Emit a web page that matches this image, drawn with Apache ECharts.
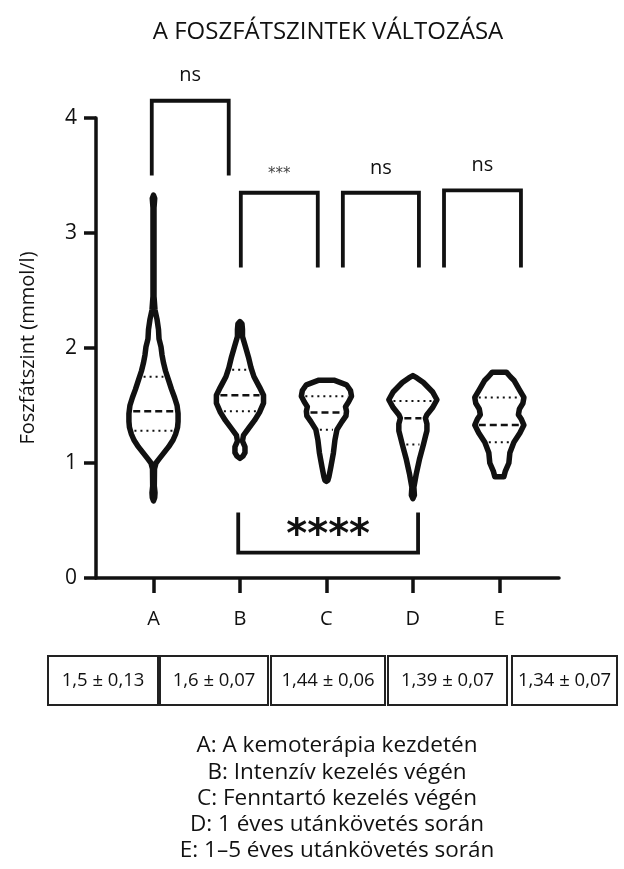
<!DOCTYPE html>
<html>
<head>
<meta charset="utf-8">
<title>A foszfátszintek változása</title>
<script src="https://cdn.jsdelivr.net/npm/echarts@6/dist/echarts.min.js"></script>
<style>
  html, body { margin: 0; padding: 0; background: #fff; }
  #chart { width: 624px; height: 869px; }
</style>
</head>
<body>
<div id="chart"></div>
<script>
// Groups along the x axis
const categories = ['A', 'B', 'C', 'D', 'E'];

// Violin outlines: [phosphate level (mmol/l), relative density]
const densityA = [
  [3.33, 0], [3.30, 1.2], [3.22, 0.5], [2.45, 0.5], [2.33, 1.5], [2.25, 3.5],
  [2.16, 5], [2.08, 5.5], [2.01, 7.5], [1.94, 8.5], [1.87, 10], [1.80, 12],
  [1.72, 15], [1.64, 18], [1.57, 21], [1.50, 23.5], [1.43, 24.5], [1.36, 24.5],
  [1.31, 24], [1.25, 22], [1.20, 19.5], [1.14, 15], [1.09, 10.5], [1.04, 6],
  [1.00, 2.5], [0.95, 1], [0.80, 0.8], [0.74, 1.5], [0.70, 1.2], [0.67, 0]
];
const densityB = [
  [2.23, 0], [2.21, 2], [2.16, 2.5], [2.10, 2.5], [2.01, 5.5], [1.92, 8.5],
  [1.83, 11], [1.75, 14], [1.66, 19.5], [1.59, 23.5], [1.52, 23.5], [1.44, 19.5],
  [1.37, 14.5], [1.30, 8.5], [1.24, 3.5], [1.19, 2.5], [1.14, 5], [1.09, 5],
  [1.06, 3], [1.04, 0]
];
const densityC = [
  [1.72, 7.5], [1.68, 20], [1.63, 24], [1.58, 25], [1.53, 22], [1.49, 19],
  [1.45, 20], [1.41, 19.5], [1.36, 15.5], [1.29, 10.5], [1.20, 8.5], [1.09, 7],
  [0.97, 4.5], [0.88, 2.5], [0.85, 1.5], [0.84, 0]
];
const densityD = [
  [1.76, 0], [1.74, 4], [1.70, 10.5], [1.62, 19.5], [1.55, 24], [1.48, 19.5],
  [1.42, 14], [1.39, 12.5], [1.34, 14], [1.28, 14], [1.23, 12.5], [1.16, 10.5],
  [1.03, 6.5], [0.91, 3.5], [0.79, 1], [0.72, 1.5], [0.69, 0]
];
const densityE = [
  [1.79, 7], [1.75, 11], [1.72, 14.5], [1.63, 20.5], [1.57, 24.5], [1.52, 23.5],
  [1.47, 20], [1.42, 19], [1.38, 22], [1.33, 24.5], [1.26, 20.5], [1.18, 14.5],
  [1.09, 10.5], [1.00, 9.5], [0.93, 6], [0.88, 4.5]
];
const violinDensities = [densityA, densityB, densityC, densityD, densityE];

// Quartiles per group
const q1Values     = [1.28, 1.45, 1.29, 1.16, 1.18];
const medianValues = [1.45, 1.59, 1.44, 1.39, 1.33];
const q3Values     = [1.75, 1.81, 1.58, 1.54, 1.57];

// Mean ± SE per group
const meanValues = [1.5, 1.6, 1.44, 1.39, 1.34];
const seValues   = [0.13, 0.07, 0.06, 0.07, 0.07];

// Significance of pairwise comparisons
const comparisonLabels = ['ns', '***', 'ns', 'ns', '****'];

// Y axis ticks
const yTicks = [0, 1, 2, 3, 4];

// Group descriptions
const legendLines = [
  'A: A kemoterápia kezdetén',
  'B: Intenzív kezelés végén',
  'C: Fenntartó kezelés végén',
  'D: 1 éves utánkövetés során',
  'E: 1–5 éves utánkövetés során'
];

// ---------------------------------------------------------------------------
// Bracket geometry in axis units (x: group index, y: mmol/l)
const bracketGeom = [
  { x0: -0.02, x1: 0.87, yBar: 4.15, yEnd: 3.50, yText: 4.37, font: '20px "Open Sans"', fill: '#111' },
  { x0: 1.01, x1: 1.90, yBar: 3.35, yEnd: 2.70, yText: 3.51, font: '15px "DejaVu Sans"', fill: '#444' },
  { x0: 2.19, x1: 3.07, yBar: 3.35, yEnd: 2.70, yText: 3.56, font: '20px "Open Sans"', fill: '#111' },
  { x0: 3.36, x1: 4.25, yBar: 3.37, yEnd: 2.70, yText: 3.59, font: '20px "Open Sans"', fill: '#111' },
  { x0: 0.98, x1: 3.06, yBar: 0.22, yEnd: 0.57, yText: 0.36, font: 'bold 40px "DejaVu Sans"', fill: '#111' }
];

const INK = '#111';
const DENSITY_TO_X = 0.29 / 25;   // density -> half width in group units

function densityAt(profile, y) {
  for (let k = 0; k < profile.length - 1; k++) {
    const [ya, da] = profile[k];
    const [yb, db] = profile[k + 1];
    if ((y <= ya && y >= yb)) {
      const t = (ya - y) / (ya - yb);
      return da + (db - da) * t;
    }
  }
  return 0;
}

function renderViolin(params, api) {
  const i = api.value(0);
  const prof = violinDensities[i];
  const right = prof.map(p => api.coord([i + p[1] * DENSITY_TO_X, p[0]]));
  const left = prof.slice().reverse().map(p => api.coord([i - p[1] * DENSITY_TO_X, p[0]]));
  const children = [{
    type: 'polygon',
    shape: { points: right.concat(left) },
    style: { fill: null, stroke: INK, lineWidth: 5.5, lineJoin: 'round', lineCap: 'round' }
  }];
  const lines = [
    { v: q1Values[i], dash: [2, 4], w: 2 },
    { v: medianValues[i], dash: [7, 4], w: 2.5 },
    { v: q3Values[i], dash: [2, 4], w: 2 }
  ];
  lines.forEach(l => {
    const d = densityAt(prof, l.v);
    const a = api.coord([i - d * DENSITY_TO_X, l.v]);
    const b = api.coord([i + d * DENSITY_TO_X, l.v]);
    const inset = 4;
    if (b[0] - a[0] > 2 * inset) {
      children.push({
        type: 'line',
        shape: { x1: a[0] + inset, y1: a[1], x2: b[0] - inset, y2: b[1] },
        style: { stroke: INK, lineWidth: l.w, lineDash: l.dash }
      });
    }
  });
  return { type: 'group', children };
}

function renderBracket(params, api) {
  const g = bracketGeom[api.value(0)];
  const p0 = api.coord([g.x0, g.yEnd]);
  const p1 = api.coord([g.x0, g.yBar]);
  const p2 = api.coord([g.x1, g.yBar]);
  const p3 = api.coord([g.x1, g.yEnd]);
  const t = api.coord([(g.x0 + g.x1) / 2, g.yText]);
  return {
    type: 'group',
    children: [
      {
        type: 'polyline',
        shape: { points: [p0, p1, p2, p3] },
        style: { fill: null, stroke: INK, lineWidth: 3.8, lineJoin: 'miter' }
      },
      {
        type: 'text',
        x: t[0], y: t[1],
        style: {
          text: comparisonLabels[api.value(0)],
          font: g.font, fill: g.fill,
          textAlign: 'center', textVerticalAlign: 'middle'
        }
      }
    ]
  };
}

function fmt(v) { return String(v).replace('.', ','); }

// Mean ± SE table under the axis
const boxRects = [
  [48, 110], [160, 108], [271, 114], [388, 119], [512, 105]
];
const tableGraphics = [];
boxRects.forEach((r, i) => {
  tableGraphics.push({
    type: 'rect',
    shape: { x: r[0], y: 656, width: r[1], height: 49 },
    style: { fill: null, stroke: '#222', lineWidth: 2 }
  });
  tableGraphics.push({
    type: 'text',
    x: r[0] + r[1] / 2, y: 681,
    style: {
      text: fmt(meanValues[i]) + ' ± ' + fmt(seValues[i]),
      font: '18.5px "Open Sans"', fill: INK,
      textAlign: 'center', textVerticalAlign: 'middle'
    }
  });
});
legendLines.forEach((line, i) => {
  tableGraphics.push({
    type: 'text',
    x: 337, y: 746 + i * 26.2,
    style: {
      text: line, font: '22.5px "Open Sans"', fill: INK,
      textAlign: 'center', textVerticalAlign: 'middle'
    }
  });
});
// Chart title, centred over the plot area
tableGraphics.push({
  type: 'text',
  x: 328, y: 32,
  style: {
    text: 'A FOSZFÁTSZINTEK VÁLTOZÁSA',
    font: '24px "Open Sans"', fill: INK,
    textAlign: 'center', textVerticalAlign: 'middle'
  }
});

const chart = echarts.init(document.getElementById('chart'), null, { renderer: 'canvas' });
chart.setOption({
  backgroundColor: '#fff',
  animation: false,
  grid: { left: 96, right: 65, top: 118, bottom: 291 },
  xAxis: {
    type: 'value',
    min: -0.665,
    max: 4.69,
    splitLine: { show: false },
    axisLine: { show: true, onZero: false, lineStyle: { color: INK, width: 3.5 } },
    axisTick: {
      show: true, inside: false, length: 15, customValues: [0, 1, 2, 3, 4],
      lineStyle: { color: INK, width: 3.5 }
    },
    axisLabel: {
      customValues: [0, 1, 2, 3, 4],
      margin: 31,
      fontFamily: 'Open Sans', fontSize: 20, color: INK,
      formatter: v => categories[Math.round(v)] || ''
    }
  },
  yAxis: {
    type: 'value',
    min: yTicks[0],
    max: yTicks[yTicks.length - 1],
    interval: 1,
    name: 'Foszfátszint (mmol/l)',
    nameLocation: 'middle',
    nameGap: 58,
    nameTextStyle: { fontFamily: 'Open Sans', fontSize: 20, color: INK },
    splitLine: { show: false },
    axisLine: { show: true, onZero: false, lineStyle: { color: INK, width: 3.5 } },
    axisTick: { show: true, length: 12, lineStyle: { color: INK, width: 3.5 } },
    axisLabel: { margin: 19, fontFamily: 'Open Sans', fontSize: 21, color: INK }
  },
  series: [
    {
      type: 'custom',
      name: 'violins',
      renderItem: renderViolin,
      data: categories.map((c, i) => [i]),
      clip: false,
      silent: true
    },
    {
      type: 'custom',
      name: 'comparisons',
      renderItem: renderBracket,
      data: comparisonLabels.map((c, i) => [i]),
      clip: false,
      silent: true
    }
  ],
  graphic: tableGraphics
});
</script>
</body>
</html>
